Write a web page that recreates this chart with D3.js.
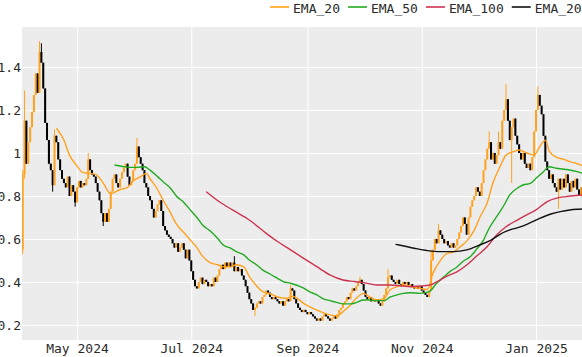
<!DOCTYPE html>
<html>
<head>
<meta charset="utf-8">
<script src="https://cdn.jsdelivr.net/npm/d3@7"></script>
<style>
  html, body { margin: 0; padding: 0; background: #fff; overflow: hidden; }
  svg { display: block; }
  text { font-family: "DejaVu Sans Mono", monospace; }
</style>
</head>
<body>
<div id="chart"></div>
<script>
// daily candles, first one on startDay, open of each day = close of the day before
var startDay = "2024-04-02"
var firstOpen = 0.55
var closes = [
  0.90, 1.15, 0.95, 1.05, 1.12, 1.19, 1.27, 1.37, 1.28, 1.47,
  1.42, 1.30, 1.14, 1.06, 0.95, 0.92, 0.85, 1.08, 1.05, 0.97,
  0.92, 0.88, 0.86, 0.84, 0.89, 0.80, 0.85, 0.82, 0.77, 0.84,
  0.87, 0.84, 0.86, 0.85, 0.88, 0.97, 0.92, 0.90, 0.89, 0.86,
  0.82, 0.78, 0.72, 0.68, 0.72, 0.68, 0.74, 0.82, 0.88, 0.90,
  0.86, 0.84, 0.88, 0.91, 0.93, 0.95, 0.89, 0.85, 0.87, 0.92,
  0.95, 1.03, 0.98, 0.95, 0.92, 0.86, 0.84, 0.80, 0.78, 0.74,
  0.70, 0.73, 0.76, 0.78, 0.73, 0.66, 0.64, 0.62, 0.61, 0.60,
  0.58, 0.56, 0.58, 0.54, 0.56, 0.58, 0.55, 0.51, 0.55, 0.50,
  0.45, 0.41, 0.38, 0.37, 0.40, 0.42, 0.39, 0.41, 0.40, 0.38,
  0.39, 0.38, 0.42, 0.40, 0.43, 0.46, 0.48, 0.46, 0.49, 0.47,
  0.49, 0.47, 0.49, 0.45, 0.47, 0.45, 0.46, 0.43, 0.41, 0.38,
  0.35, 0.32, 0.30, 0.27, 0.28, 0.30, 0.31, 0.30, 0.33, 0.34,
  0.36, 0.35, 0.33, 0.32, 0.33, 0.32, 0.31, 0.30, 0.31, 0.29,
  0.31, 0.32, 0.31, 0.37, 0.36, 0.32, 0.30, 0.28, 0.27, 0.26,
  0.27, 0.26, 0.25, 0.26, 0.25, 0.24, 0.23, 0.22, 0.23, 0.22,
  0.24, 0.25, 0.24, 0.23, 0.22, 0.23, 0.24, 0.23, 0.25, 0.27,
  0.28, 0.30, 0.31, 0.33, 0.32, 0.35, 0.37, 0.36, 0.38, 0.40,
  0.41, 0.39, 0.36, 0.33, 0.32, 0.33, 0.31, 0.32, 0.31, 0.32,
  0.30, 0.29, 0.31, 0.34, 0.37, 0.42, 0.43, 0.41, 0.40, 0.39,
  0.41, 0.39, 0.38, 0.40, 0.39, 0.40, 0.38, 0.39, 0.38, 0.37,
  0.38, 0.37, 0.38, 0.36, 0.35, 0.34, 0.33, 0.36, 0.50, 0.55,
  0.60, 0.58, 0.64, 0.62, 0.60, 0.58, 0.59, 0.57, 0.56, 0.58,
  0.56, 0.57, 0.60, 0.63, 0.66, 0.70, 0.67, 0.62, 0.70, 0.75,
  0.78, 0.80, 0.84, 0.82, 0.80, 0.86, 0.92, 0.97, 1.02, 1.05,
  0.97, 1.00, 0.95, 0.99, 1.05, 1.02, 1.15, 1.20, 1.25, 1.15,
  1.06, 1.12, 1.16, 1.08, 1.04, 1.00, 0.97, 1.00, 0.95, 0.93,
  0.95, 0.92, 0.98, 1.10, 1.20, 1.27, 1.22, 1.18, 1.08, 0.96,
  0.92, 0.88, 0.90, 0.86, 0.84, 0.82, 0.88, 0.83, 0.88, 0.84,
  0.90, 0.86, 0.82, 0.87, 0.84, 0.88, 0.83, 0.80, 0.84, 0.79,
  0.82, 0.80
]
// wicks that reach past the body: [day index, price]
var highs = [[0,0.92],[1,1.29],[9,1.52],[10,1.51],[17,1.11],[35,1.00],[61,1.07],
  [113,0.52],[143,0.385],[180,0.425],[195,0.46],[218,0.55],[222,0.67],
  [249,1.10],[254,1.10],[258,1.32],[275,1.31]]
var lows = [[0,0.53],[1,0.88],[16,0.82],[28,0.75],[43,0.66],[124,0.24],[261,0.86],[286,0.74]]

var ema20 = [["2024-04-20",1.115],["2024-04-24",1.06],["2024-04-27",0.99],["2024-05-01",0.94],
  ["2024-05-04",0.91],["2024-05-08",0.905],["2024-05-11",0.90],["2024-05-15",0.86],["2024-05-19",0.81],
  ["2024-05-24",0.83],["2024-05-28",0.84],["2024-05-31",0.87],["2024-06-04",0.89],["2024-06-07",0.905],
  ["2024-06-09",0.88],["2024-06-13",0.83],["2024-06-16",0.78],["2024-06-20",0.72],["2024-06-23",0.67],
  ["2024-06-27",0.63],["2024-06-30",0.60],["2024-07-04",0.56],["2024-07-07",0.52],["2024-07-11",0.49],
  ["2024-07-15",0.48],["2024-07-18",0.47],["2024-07-22",0.47],["2024-07-25",0.48],["2024-07-29",0.47],
  ["2024-08-01",0.425],["2024-08-05",0.38],["2024-08-08",0.355],["2024-08-12",0.345],["2024-08-16",0.33],
  ["2024-08-21",0.324],["2024-08-24",0.333],["2024-08-26",0.327],["2024-08-30",0.30],["2024-09-02",0.285],
  ["2024-09-08",0.262],["2024-09-13",0.247],["2024-09-17",0.242],["2024-09-20",0.262],["2024-09-24",0.293],
  ["2024-09-27",0.324],["2024-10-01",0.347],["2024-10-04",0.332],["2024-10-08",0.316],["2024-10-12",0.324],
  ["2024-10-15",0.363],["2024-10-19",0.378],["2024-10-22",0.386],["2024-10-26",0.38],["2024-10-31",0.37],
  ["2024-11-04",0.365],["2024-11-07",0.44],["2024-11-11",0.50],["2024-11-14",0.53],["2024-11-18",0.54],
  ["2024-11-21",0.56],["2024-11-25",0.59],["2024-11-29",0.64],["2024-12-02",0.70],["2024-12-06",0.77],
  ["2024-12-09",0.86],["2024-12-13",0.94],["2024-12-16",0.99],["2024-12-20",1.006],["2024-12-23",1.014],
  ["2024-12-27",1.0],["2024-12-31",0.99],["2025-01-03",1.03],["2025-01-06",1.06],["2025-01-08",1.01],
  ["2025-01-12",0.98],["2025-01-16",0.97],["2025-01-19",0.96],["2025-01-23",0.95],["2025-01-26",0.94],
  ["2025-01-28",0.93]]
var ema50 = [["2024-05-21",0.944],["2024-05-26",0.936],["2024-05-29",0.933],["2024-06-02",0.933],
  ["2024-06-06",0.936],["2024-06-09",0.92],["2024-06-13",0.89],["2024-06-16",0.866],["2024-06-20",0.835],
  ["2024-06-23",0.80],["2024-06-27",0.77],["2024-06-30",0.74],["2024-07-04",0.70],["2024-07-07",0.665],
  ["2024-07-11",0.638],["2024-07-15",0.603],["2024-07-18",0.572],["2024-07-22",0.557],["2024-07-25",0.541],
  ["2024-07-29",0.526],["2024-08-01",0.502],["2024-08-05",0.479],["2024-08-08",0.456],["2024-08-12",0.437],
  ["2024-08-16",0.417],["2024-08-19",0.402],["2024-08-23",0.394],["2024-08-26",0.386],["2024-08-30",0.371],
  ["2024-09-02",0.355],["2024-09-06",0.34],["2024-09-09",0.324],["2024-09-13",0.313],["2024-09-17",0.304],
  ["2024-09-20",0.298],["2024-09-24",0.298],["2024-09-27",0.304],["2024-10-01",0.316],["2024-10-04",0.316],
  ["2024-10-08",0.313],["2024-10-12",0.313],["2024-10-15",0.329],["2024-10-19",0.34],["2024-10-22",0.347],
  ["2024-10-26",0.35],["2024-10-31",0.347],["2024-11-05",0.355],["2024-11-09",0.394],["2024-11-13",0.425],
  ["2024-11-16",0.448],["2024-11-20",0.471],["2024-11-23",0.495],["2024-11-27",0.518],["2024-11-30",0.549],
  ["2024-12-04",0.595],["2024-12-07",0.65],["2024-12-11",0.704],["2024-12-15",0.758],["2024-12-18",0.805],
  ["2024-12-22",0.836],["2024-12-25",0.851],["2024-12-29",0.859],["2025-01-01",0.882],["2025-01-05",0.913],
  ["2025-01-08",0.936],["2025-01-12",0.929],["2025-01-16",0.924],["2025-01-19",0.921],["2025-01-23",0.913],
  ["2025-01-26",0.905],["2025-01-28",0.90]]
var ema100 = [["2024-07-09",0.82],["2024-07-16",0.773],["2024-07-23",0.735],["2024-08-01",0.688],
  ["2024-08-10",0.626],["2024-08-16",0.588],["2024-08-23",0.549],["2024-08-30",0.51],["2024-09-06",0.471],
  ["2024-09-13",0.433],["2024-09-20",0.409],["2024-09-26",0.402],["2024-10-01",0.397],["2024-10-08",0.386],
  ["2024-10-15",0.386],["2024-10-22",0.381],["2024-10-26",0.378],["2024-10-31",0.381],["2024-11-05",0.385],
  ["2024-11-09",0.40],["2024-11-14",0.425],["2024-11-20",0.448],["2024-11-25",0.479],["2024-11-30",0.518],
  ["2024-12-06",0.565],["2024-12-11",0.619],["2024-12-16",0.657],["2024-12-22",0.688],["2024-12-27",0.712],
  ["2025-01-01",0.735],["2025-01-07",0.774],["2025-01-12",0.79],["2025-01-17",0.797],["2025-01-26",0.805],
  ["2025-01-28",0.807]]
var ema200 = [["2024-10-18",0.575],["2024-10-20",0.572],["2024-10-28",0.557],["2024-11-04",0.546],
  ["2024-11-11",0.541],["2024-11-18",0.541],["2024-11-25",0.549],["2024-12-02",0.572],["2024-12-08",0.595],
  ["2024-12-13",0.623],["2024-12-18",0.642],["2024-12-24",0.657],["2024-12-29",0.676],["2025-01-03",0.696],
  ["2025-01-09",0.716],["2025-01-14",0.727],["2025-01-19",0.735],["2025-01-26",0.74],["2025-01-28",0.742]]

var seriesNames = ["EMA_20", "EMA_50", "EMA_100", "EMA_200"]
var seriesColors = ["#ffa21f", "#22aa22", "#cc3350", "#111111"]
var xTicks = ["2024-05-01", "2024-07-01", "2024-09-01", "2024-11-01", "2025-01-01"]
var yTicks = [0.2, 0.4, 0.6, 0.8, 1, 1.2, 1.4]

var upColor = "#ffa21f", downColor = "#000000"

// the figure is wider than the window, right side gets cut off like the original
var width = 640, height = 357
var plotLeft = 22, plotRight = 640, plotTop = 27, plotBottom = 340

var parse = d3.utcParse("%Y-%m-%d")
var xScale = d3.scaleUtc().domain([parse("2024-05-01"), parse("2025-01-01")]).range([77, 536])
var yScale = d3.scaleLinear().domain([0.13, 1.586]).range([plotBottom, plotTop])

var svg = d3.select("#chart").append("svg")
    .attr("width", width)
    .attr("height", height)

svg.append("rect")
  .attr("x", plotLeft).attr("y", plotTop)
  .attr("width", plotRight - plotLeft).attr("height", plotBottom - plotTop)
  .style("fill", "#ececec")

// grid + tick labels
var xAxis = d3.axisBottom(xScale)
    .tickValues(xTicks.map(parse))
    .tickFormat(d3.utcFormat("%b %Y"))
    .tickSize(-(plotBottom - plotTop))
    .tickPadding(4)
var yAxis = d3.axisLeft(yScale)
    .tickValues(yTicks)
    .tickFormat(function(d){ return String(d) })
    .tickSize(-(plotRight - plotLeft))
    .tickPadding(1)

var gx = svg.append("g").attr("transform", "translate(0," + plotBottom + ")").call(xAxis)
var gy = svg.append("g").attr("transform", "translate(" + plotLeft + ",0)").call(yAxis)
;[gx, gy].forEach(function(g){
  g.select(".domain").remove()
  g.selectAll("line").style("stroke", "#ffffff").style("stroke-width", 1)
  g.selectAll("text").style("font-size", "13px").style("fill", "#2b2b2b")
    .style("font-family", "'DejaVu Sans Mono', monospace")
})

var clip = svg.append("defs").append("clipPath").attr("id", "clip")
  .append("rect")
  .attr("x", plotLeft).attr("y", plotTop)
  .attr("width", plotRight - plotLeft).attr("height", plotBottom - plotTop)

var graph = svg.append("g").attr("clip-path", "url(#clip)")

// build candles
var day0 = parse(startDay)
var hiMap = {}, loMap = {}
highs.forEach(function(h){ hiMap[h[0]] = h[1] })
lows.forEach(function(l){ loMap[l[0]] = l[1] })

var candles = closes.map(function(c, i){
  var o = i == 0 ? firstOpen : closes[i-1]
  return {
    date: d3.utcDay.offset(day0, i),
    open: o,
    close: c,
    high: hiMap[i] != null ? hiMap[i] : Math.max(o, c),
    low: loMap[i] != null ? loMap[i] : Math.min(o, c)
  }
})

var bodyW = 2
var cg = graph.selectAll(".candle").data(candles).enter().append("g").attr("class", "candle")
cg.append("line")
  .attr("x1", function(d){ return xScale(d.date) })
  .attr("x2", function(d){ return xScale(d.date) })
  .attr("y1", function(d){ return yScale(d.high) })
  .attr("y2", function(d){ return yScale(d.low) })
  .style("stroke", function(d){ return d.close >= d.open ? upColor : downColor })
  .style("stroke-width", 1)
cg.append("rect")
  .attr("x", function(d){ return xScale(d.date) - bodyW/2 })
  .attr("width", bodyW)
  .attr("y", function(d){ return yScale(Math.max(d.open, d.close)) })
  .attr("height", function(d){ return Math.max(1.5, Math.abs(yScale(d.open) - yScale(d.close))) })
  .style("fill", function(d){ return d.close >= d.open ? upColor : downColor })

// moving averages
var line = d3.line()
  .x(function(d){ return xScale(parse(d[0])) })
  .y(function(d){ return yScale(d[1]) })
  .curve(d3.curveMonotoneX)

var emaSeries = [ema20, ema50, ema100, ema200]
emaSeries.forEach(function(s, k){
  graph.append("path")
    .attr("d", line(s))
    .attr("fill", "none")
    .attr("stroke", seriesColors[k])
    .attr("stroke-width", 1.4)
})

// legend across the top
var legend = svg.append("g").attr("transform", "translate(270,7)")
var lx = 0
seriesNames.forEach(function(name, k){
  var item = legend.append("g").attr("transform", "translate(" + lx + ",0)")
  item.append("line").attr("x1", 0).attr("x2", 19).attr("y1", 0).attr("y2", 0)
    .style("stroke", seriesColors[k]).style("stroke-width", 1.6)
  var t = item.append("text").attr("x", 23).attr("y", 5.5)
    .text(name)
    .style("font-size", "13px")
    .style("fill", "#2b2b2b")
  lx += 23 + t.node().getComputedTextLength() + 8
})
</script>
</body>
</html>
